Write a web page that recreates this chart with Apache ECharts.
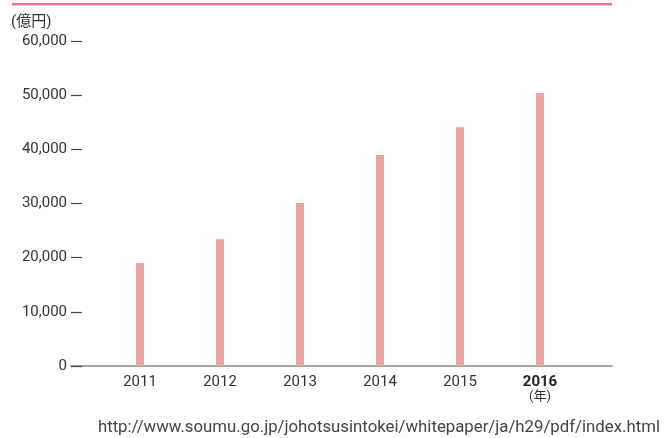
<!DOCTYPE html>
<html>
<head>
<meta charset="utf-8">
<script src="https://cdn.jsdelivr.net/npm/echarts@6/dist/echarts.min.js"></script>
<style>
html,body{margin:0;padding:0;background:#fff;}
#c{width:670px;height:438px;}
</style>
</head>
<body>
<div id="c"></div>
<script>
const years = [2011, 2012, 2013, 2014, 2015, 2016];
const values = [19000, 23400, 30100, 38950, 44100, 50400];
const yTicks = [0, 10000, 20000, 30000, 40000, 50000, 60000];
const unitLabel = '(億円)';
const yearUnit = '(年)';
const sourceText = 'http://www.soumu.go.jp/johotsusintokei/whitepaper/ja/h29/pdf/index.html';

const FONT = 'Roboto, "Noto Sans CJK JP", sans-serif';
const chart = echarts.init(document.getElementById('c'), null, {renderer: 'canvas'});
const addCommas = v => String(v).replace(/\B(?=(\d{3})+(?!\d))/g, ',');

chart.setOption({
  animation: false,
  backgroundColor: '#fff',
  textStyle: {fontFamily: FONT},
  graphic: [{
    type: 'line',
    shape: {x1: 12, y1: 4, x2: 612, y2: 4},
    style: {stroke: '#d44d62', lineWidth: 1.5}
  }, {
    type: 'line',
    shape: {x1: 12, y1: 5.5, x2: 612, y2: 5.5},
    style: {stroke: '#f3c9cf', lineWidth: 1}
  }],
  title: [{
    text: unitLabel,
    left: 6, top: 10,
    textStyle: {fontSize: 15, fontWeight: 'normal', color: '#333', fontFamily: FONT}
  }, {
    text: sourceText,
    right: 5, top: 414,
    textStyle: {fontSize: 16.8, fontWeight: 'normal', color: '#444', fontFamily: FONT}
  }],
  grid: {left: 71, right: 58, top: 41, bottom: 72, containLabel: false},
  xAxis: {
    type: 'value',
    min: 2010.1375,
    max: 2016.9,
    axisLine: {show: true, lineStyle: {color: '#888', width: 1.5}},
    axisTick: {show: false},
    splitLine: {show: false},
    axisLabel: {
      customValues: years,
      margin: 8,
      formatter: v => v === 2016 ? '{b|2016}\n{u|' + yearUnit + '}' : '{a|' + v + '}',
      rich: {
        a: {fontSize: 15, color: '#333', fontFamily: FONT, lineHeight: 16},
        b: {fontSize: 15, color: '#222', fontWeight: 'bold', fontFamily: FONT, lineHeight: 16},
        u: {fontSize: 13, color: '#333', fontFamily: FONT, lineHeight: 14}
      }
    }
  },
  yAxis: {
    type: 'value',
    min: 0, max: 60000, interval: 10000,
    axisLine: {show: false},
    axisTick: {show: true, inside: true, length: 11, lineStyle: {color: '#444', width: 1.2}},
    splitLine: {show: false},
    axisLabel: {
      margin: 4,
      fontSize: 15,
      color: '#333',
      fontFamily: FONT,
      formatter: v => addCommas(v)
    }
  },
  series: [{
    type: 'bar',
    barWidth: 8,
    itemStyle: {color: '#eaa89c'},
    data: years.map((y, i) => [y, values[i]])
  }]
});
</script>
</body>
</html>
